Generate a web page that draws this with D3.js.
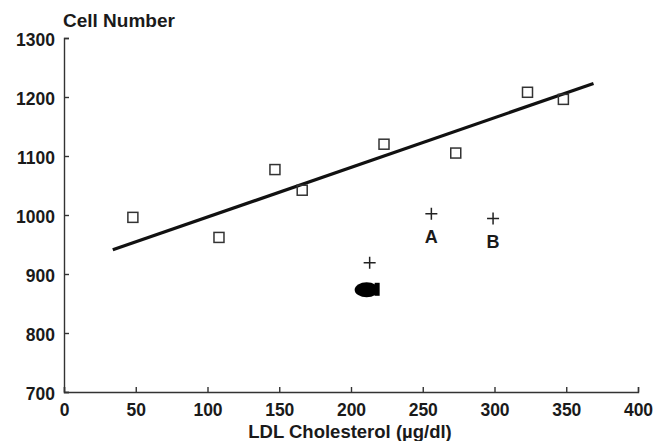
<meta charset="utf-8" />
<script src="https://d3js.org/d3.v7.min.js"></script>
<style>
  body { margin: 0; background: #fff; }
  svg text { fill: #1a1a1a; font-family: "Liberation Sans", Arial, sans-serif; font-weight: bold; }
  .axis path, .axis line { stroke: #333; stroke-width: 1.4; }
  .axis text { font-size: 17.5px; }
</style>
<svg width="655" height="441"></svg>
<script>
  // open squares
  var squareX = [48, 108, 147, 166, 223, 273, 323, 348];
  var squareY = [996, 962, 1077, 1042, 1120, 1105, 1208, 1196];
  // crosses
  var crossX = [213, 256, 299];
  var crossY = [919, 1002, 994];
  var crossLabels = ["", "A", "B"];
  // regression line end points
  var lineX = [34, 369];
  var lineY = [941, 1223];
  var xTicks = [0, 50, 100, 150, 200, 250, 300, 350, 400];
  var yTicks = [700, 800, 900, 1000, 1100, 1200, 1300];

  var svg = d3.select("svg");
  var x = d3.scaleLinear().domain([0, 400]).range([64, 638]);
  var y = d3.scaleLinear().domain([700, 1300]).range([392, 38]);

  svg.append("g")
    .attr("class", "axis")
    .attr("transform", "translate(0,392)")
    .call(d3.axisTop(x).tickValues(xTicks).tickFormat(d3.format("d")).tickSize(5).tickSizeOuter(5))
    .call(function (g) {
      g.selectAll("text").attr("y", 24).attr("dy", 0);
    });

  svg.append("g")
    .attr("class", "axis")
    .attr("transform", "translate(64,0)")
    .call(d3.axisRight(y).tickValues(yTicks).tickFormat(d3.format("d")).tickSize(5).tickSizeOuter(5))
    .call(function (g) {
      g.selectAll("text").attr("x", -9).attr("text-anchor", "end").attr("dy", "0.4em");
    });

  svg.append("text")
    .attr("x", 63).attr("y", 27)
    .style("font-size", "19px")
    .text("Cell Number");

  svg.append("text")
    .attr("x", 350).attr("y", 438)
    .attr("text-anchor", "middle")
    .style("font-size", "18.5px")
    .text("LDL Cholesterol (µg/dl)");

  svg.append("line")
    .attr("x1", x(lineX[0])).attr("y1", y(lineY[0]))
    .attr("x2", x(lineX[1])).attr("y2", y(lineY[1]))
    .attr("stroke", "#111").attr("stroke-width", 3.2);

  svg.selectAll(".sq")
    .data(squareX)
    .enter()
    .append("rect")
    .attr("class", "sq")
    .attr("x", function (d) { return x(d) - 5; })
    .attr("y", function (d, i) { return y(squareY[i]) - 5; })
    .attr("width", 10).attr("height", 10)
    .attr("fill", "none").attr("stroke", "#333").attr("stroke-width", 1.5);

  var cross = svg.selectAll(".cross")
    .data(crossX)
    .enter()
    .append("g")
    .attr("class", "cross")
    .attr("transform", function (d, i) { return "translate(" + x(d) + "," + y(crossY[i]) + ")"; });
  cross.append("path")
    .attr("d", "M-6,0H6M0,-6V6")
    .attr("stroke", "#222").attr("stroke-width", 1.5);
  cross.append("text")
    .attr("y", 29)
    .attr("text-anchor", "middle")
    .style("font-size", "18px")
    .text(function (d, i) { return crossLabels[i]; });

  // blacked-out label under the lowest cross
  var bx = x(crossX[0]), by = y(crossY[0]);
  svg.append("ellipse")
    .attr("cx", bx - 3).attr("cy", by + 27)
    .attr("rx", 12).attr("ry", 7.5)
    .attr("fill", "#000");
  svg.append("rect")
    .attr("x", bx + 5).attr("y", by + 20)
    .attr("width", 5).attr("height", 13)
    .attr("fill", "#000");
</script>
